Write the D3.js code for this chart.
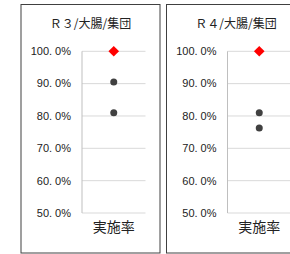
<!DOCTYPE html>
<html>
<head>
<meta charset="utf-8">
<script src="https://cdn.jsdelivr.net/npm/d3@7"></script>
<style>
body { margin: 0; background: #fff; }
svg { display: block; }
</style>
</head>
<body>
<script>
var panelTitles = ["Ｒ３/大腸/集団", "Ｒ４/大腸/集団"];
var category = ["実施率"];
var targetValues = [1.0, 1.0];
var groupValues = [[0.905, 0.81], [0.81, 0.763]];
var yTicks = [0.5, 0.6, 0.7, 0.8, 0.9, 1.0];

var width = 290, height = 254;

var svg = d3.select("body").append("svg")
    .attr("width", width)
    .attr("height", height);

var panelX = [21, 166.5],
    panelW = 139,
    panelTop = 4.5,
    panelBottom = 253;

var plot = { left: 61, width: 63.5, top: 51.3, bottom: 213 };

var y = d3.scaleLinear()
    .domain([0.5, 1.0])
    .range([plot.bottom, plot.top]);

var x = d3.scaleBand()
    .domain(category)
    .range([0, plot.width]);

var fmt = d3.format(".1f");

panelTitles.forEach(function(title, i) {
    var g = svg.append("g")
        .attr("transform", "translate(" + panelX[i] + ",0)");

    g.append("rect")
        .attr("x", 0)
        .attr("y", panelTop)
        .attr("width", i === 0 ? panelW : panelW + 40)
        .attr("height", panelBottom - panelTop)
        .attr("fill", "#fff")
        .attr("stroke", "#404040")
        .attr("stroke-width", 1);

    g.append("text")
        .attr("x", panelW / 2)
        .attr("y", 28)
        .attr("text-anchor", "middle")
        .style("font-family", "'Noto Sans CJK JP'")
        .style("font-size", "12px")
        .attr("fill", "#222")
        .text(title);

    var p = g.append("g")
        .attr("transform", "translate(" + plot.left + ",0)");

    p.selectAll(".grid")
        .data(yTicks)
        .enter().append("line")
        .attr("class", "grid")
        .attr("x1", 0)
        .attr("x2", plot.width)
        .attr("y1", function(d) { return y(d); })
        .attr("y2", function(d) { return y(d); })
        .attr("stroke", "#d9d9d9")
        .attr("stroke-width", 1);

    p.append("line")
        .attr("x1", 0).attr("x2", 0)
        .attr("y1", plot.top).attr("y2", plot.bottom)
        .attr("stroke", "#bfbfbf");

    var lbl = p.selectAll(".tick")
        .data(yTicks)
        .enter().append("text")
        .attr("class", "tick")
        .attr("x", -11)
        .attr("y", function(d) { return y(d); })
        .attr("dy", "0.35em")
        .attr("text-anchor", "end")
        .style("font-family", "'Liberation Sans'")
        .style("font-size", "11px")
        .attr("fill", "#222");
    lbl.append("tspan")
        .text(function(d) { return fmt(d * 100).split(".")[0] + "."; });
    lbl.append("tspan")
        .attr("dx", 3)
        .text(function(d) { return fmt(d * 100).split(".")[1] + "%"; });

    p.append("text")
        .attr("x", x(category[0]) + x.bandwidth() / 2)
        .attr("y", 232)
        .attr("text-anchor", "middle")
        .style("font-family", "'Noto Sans CJK JP'")
        .style("font-size", "14px")
        .attr("fill", "#222")
        .text(category[0]);

    var cx = x(category[0]) + x.bandwidth() / 2;

    p.selectAll(".dot")
        .data(groupValues[i])
        .enter().append("circle")
        .attr("class", "dot")
        .attr("cx", cx)
        .attr("cy", function(d) { return y(d); })
        .attr("r", 3.5)
        .attr("fill", "#404040");

    p.append("path")
        .attr("d", d3.symbol().type(d3.symbolDiamond2).size(72)())
        .attr("transform", "translate(" + cx + "," + y(targetValues[i]) + ")")
        .attr("fill", "#ff0000");
});
</script>
</body>
</html>
